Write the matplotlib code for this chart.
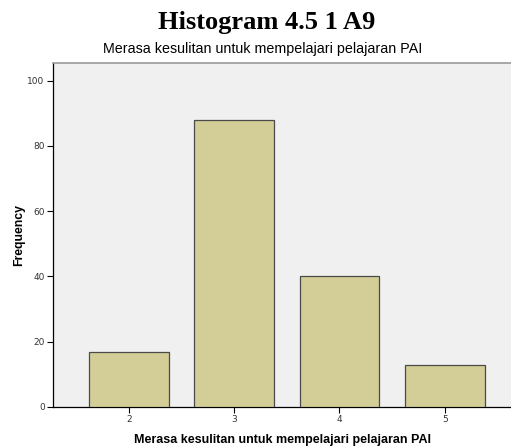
import matplotlib.pyplot as plt

# data
categories = [2, 3, 4, 5]
frequency = [17, 88, 40, 13]
yticks = [0, 20, 40, 60, 80, 100]

fig = plt.figure(figsize=(5.11, 4.47), dpi=100)
ax = fig.add_axes([53 / 511, 1 - 407 / 447, 1 - 53 / 511, (407 - 63) / 447])

ax.set_facecolor("#F0F0F0")
ax.bar(categories, frequency, width=0.76, color="#D3CE97", edgecolor="#4a4a4a", linewidth=0.9, zorder=3)

ax.set_xlim(1.277, 5.63)
ax.set_ylim(0, 105.4)
ax.set_xticks(categories)
ax.set_yticks(yticks)
ax.tick_params(axis="both", labelsize=6.5, length=4, width=0.8, colors="black", labelcolor="#333333", pad=2)

ax.spines["right"].set_visible(False)
ax.spines["top"].set_color("#999999")
ax.spines["top"].set_linewidth(1.2)
ax.spines["left"].set_linewidth(0.9)
ax.spines["bottom"].set_linewidth(0.9)

ax.set_ylabel("Frequency", family="Liberation Sans", fontweight="bold", fontsize=8.8, labelpad=2)
ax.set_xlabel("Merasa kesulitan untuk mempelajari pelajaran PAI", family="Liberation Sans",
              fontweight="bold", fontsize=9, labelpad=7)

fig.text(0.521, 1 - 29 / 447, "Histogram 4.5 1 A9", family="Liberation Serif", fontweight="bold",
         fontsize=19, ha="center", va="baseline")
fig.text(0.513, 1 - 49 / 447, "Merasa kesulitan untuk mempelajari pelajaran PAI", family="Liberation Sans",
         fontsize=10.3, ha="center", va="center")

fig.savefig("out.png", dpi=100)
